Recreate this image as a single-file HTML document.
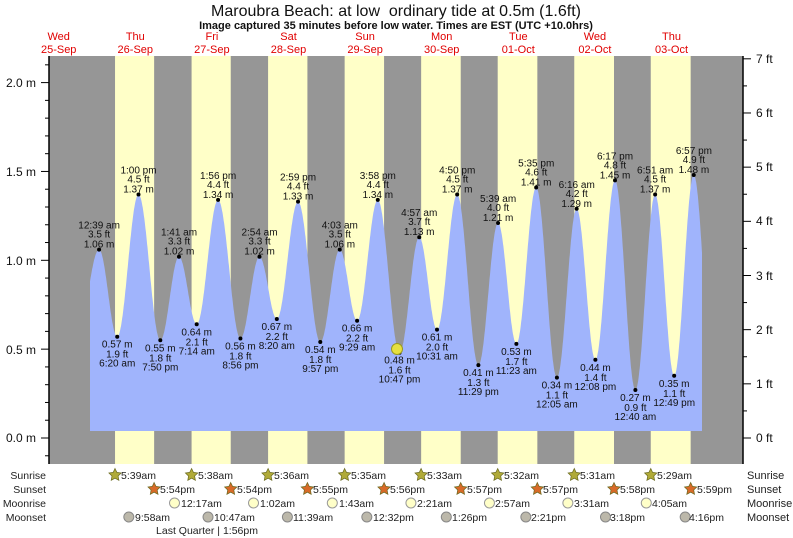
<!DOCTYPE html>
<html><head><meta charset="utf-8"><style>
html,body{margin:0;padding:0;background:#fff;}
svg{display:block;font-family:"Liberation Sans",sans-serif;}
.l text{font-size:10px;text-anchor:middle;fill:#111;}
.r{font-size:10.5px;fill:#222;}
</style></head><body>
<svg id="s" width="793" height="538" viewBox="0 0 793 538">
<rect x="49" y="56" width="694" height="408" fill="#969696"/>
<g id="bands"></g>
<path id="tide" fill="#a0b4fc"/>
<g id="ticks" stroke="#000" stroke-width="1"></g>
<line x1="49" y1="56" x2="49" y2="464" stroke="#000" stroke-width="1.5"/>
<line x1="743" y1="56" x2="743" y2="464" stroke="#000" stroke-width="1.5"/>
<g id="dots"></g>
<circle cx="397" cy="349" r="5.5" fill="#e6e040" stroke="#9a9a20" stroke-width="1"/>
<text x="396" y="16" font-size="16" text-anchor="middle" fill="#111">Maroubra Beach: at low&#160; ordinary tide at 0.5m (1.6ft)</text>
<text x="396" y="29" font-size="11" font-weight="bold" text-anchor="middle" fill="#111">Image captured 35 minutes before low water. Times are EST (UTC +10.0hrs)</text>
<g font-size="11" fill="#e00000" text-anchor="middle">
<text x="58.7" y="40">Wed</text><text x="58.7" y="53">25-Sep</text>
<text x="135.3" y="40">Thu</text><text x="135.3" y="53">26-Sep</text>
<text x="211.9" y="40">Fri</text><text x="211.9" y="53">27-Sep</text>
<text x="288.5" y="40">Sat</text><text x="288.5" y="53">28-Sep</text>
<text x="365.1" y="40">Sun</text><text x="365.1" y="53">29-Sep</text>
<text x="441.7" y="40">Mon</text><text x="441.7" y="53">30-Sep</text>
<text x="518.3" y="40">Tue</text><text x="518.3" y="53">01-Oct</text>
<text x="594.9" y="40">Wed</text><text x="594.9" y="53">02-Oct</text>
<text x="671.5" y="40">Thu</text><text x="671.5" y="53">03-Oct</text>
</g>
<g font-size="12" fill="#111" text-anchor="end">
<text x="36" y="87">2.0 m</text><text x="36" y="176">1.5 m</text><text x="36" y="265">1.0 m</text><text x="36" y="354">0.5 m</text><text x="36" y="442">0.0 m</text>
</g>
<g font-size="12" fill="#111">
<text x="756" y="442">0 ft</text><text x="756" y="388">1 ft</text><text x="756" y="334">2 ft</text><text x="756" y="280">3 ft</text><text x="756" y="225">4 ft</text><text x="756" y="171">5 ft</text><text x="756" y="117">6 ft</text><text x="756" y="63">7 ft</text>
</g>
<g class="l">
<g transform="translate(99.1,249.6)"><text y="-21">12:39 am</text><text y="-12">3.5 ft</text><text y="-2">1.06 m</text></g>
<g transform="translate(117.2,336.7)"><text y="11">0.57 m</text><text y="21">1.9 ft</text><text y="30">6:20 am</text></g>
<g transform="translate(138.5,194.5)"><text y="-21">1:00 pm</text><text y="-12">4.5 ft</text><text y="-2">1.37 m</text></g>
<g transform="translate(160.3,340.3)"><text y="11">0.55 m</text><text y="21">1.8 ft</text><text y="30">7:50 pm</text></g>
<g transform="translate(179,256.7)"><text y="-21">1:41 am</text><text y="-12">3.3 ft</text><text y="-2">1.02 m</text></g>
<g transform="translate(196.7,324.3)"><text y="11">0.64 m</text><text y="21">2.1 ft</text><text y="30">7:14 am</text></g>
<g transform="translate(218.1,199.9)"><text y="-21">1:56 pm</text><text y="-12">4.4 ft</text><text y="-2">1.34 m</text></g>
<g transform="translate(240.4,338.5)"><text y="11">0.56 m</text><text y="21">1.8 ft</text><text y="30">8:56 pm</text></g>
<g transform="translate(259.5,256.7)"><text y="-21">2:54 am</text><text y="-12">3.3 ft</text><text y="-2">1.02 m</text></g>
<g transform="translate(276.8,318.9)"><text y="11">0.67 m</text><text y="21">2.2 ft</text><text y="30">8:20 am</text></g>
<g transform="translate(298,201.7)"><text y="-21">2:59 pm</text><text y="-12">4.4 ft</text><text y="-2">1.33 m</text></g>
<g transform="translate(320.3,342)"><text y="11">0.54 m</text><text y="21">1.8 ft</text><text y="30">9:57 pm</text></g>
<g transform="translate(339.8,249.6)"><text y="-21">4:03 am</text><text y="-12">3.5 ft</text><text y="-2">1.06 m</text></g>
<g transform="translate(357.1,320.7)"><text y="11">0.66 m</text><text y="21">2.2 ft</text><text y="30">9:29 am</text></g>
<g transform="translate(377.8,199.9)"><text y="-21">3:58 pm</text><text y="-12">4.4 ft</text><text y="-2">1.34 m</text></g>
<g transform="translate(399.5,352.7)"><text y="11">0.48 m</text><text y="21">1.6 ft</text><text y="30">10:47 pm</text></g>
<g transform="translate(419.2,237.2)"><text y="-21">4:57 am</text><text y="-12">3.7 ft</text><text y="-2">1.13 m</text></g>
<g transform="translate(437,329.6)"><text y="11">0.61 m</text><text y="21">2.0 ft</text><text y="30">10:31 am</text></g>
<g transform="translate(457.2,194.5)"><text y="-21">4:50 pm</text><text y="-12">4.5 ft</text><text y="-2">1.37 m</text></g>
<g transform="translate(478.4,365.1)"><text y="11">0.41 m</text><text y="21">1.3 ft</text><text y="30">11:29 pm</text></g>
<g transform="translate(498.1,223)"><text y="-21">5:39 am</text><text y="-12">4.0 ft</text><text y="-2">1.21 m</text></g>
<g transform="translate(516.4,343.8)"><text y="11">0.53 m</text><text y="21">1.7 ft</text><text y="30">11:23 am</text></g>
<g transform="translate(536.2,187.4)"><text y="-21">5:35 pm</text><text y="-12">4.6 ft</text><text y="-2">1.41 m</text></g>
<g transform="translate(556.9,377.6)"><text y="11">0.34 m</text><text y="21">1.1 ft</text><text y="30">12:05 am</text></g>
<g transform="translate(576.7,208.8)"><text y="-21">6:16 am</text><text y="-12">4.2 ft</text><text y="-2">1.29 m</text></g>
<g transform="translate(595.4,359.8)"><text y="11">0.44 m</text><text y="21">1.4 ft</text><text y="30">12:08 pm</text></g>
<g transform="translate(615,180.3)"><text y="-21">6:17 pm</text><text y="-12">4.8 ft</text><text y="-2">1.45 m</text></g>
<g transform="translate(635.4,390)"><text y="11">0.27 m</text><text y="21">0.9 ft</text><text y="30">12:40 am</text></g>
<g transform="translate(655.1,194.5)"><text y="-21">6:51 am</text><text y="-12">4.5 ft</text><text y="-2">1.37 m</text></g>
<g transform="translate(674.2,375.8)"><text y="11">0.35 m</text><text y="21">1.1 ft</text><text y="30">12:49 pm</text></g>
<g transform="translate(693.9,175)"><text y="-21">6:57 pm</text><text y="-12">4.9 ft</text><text y="-2">1.48 m</text></g>
</g>
<g font-size="10.5" fill="#222" text-anchor="end">
<text x="46" y="479">Sunrise</text><text x="46" y="493">Sunset</text><text x="46" y="507">Moonrise</text><text x="46" y="521">Moonset</text>
</g>
<g font-size="11" fill="#222">
<text x="747" y="479">Sunrise</text><text x="747" y="493">Sunset</text><text x="747" y="507">Moonrise</text><text x="747" y="521">Moonset</text>
</g>
<g id="icons"></g>
<g class="r">
<text x="121" y="479">5:39am</text><text x="198" y="479">5:38am</text><text x="274" y="479">5:36am</text><text x="351" y="479">5:35am</text><text x="427" y="479">5:33am</text><text x="504" y="479">5:32am</text><text x="580" y="479">5:31am</text><text x="657" y="479">5:29am</text>
<text x="160" y="493">5:54pm</text><text x="237" y="493">5:54pm</text><text x="313" y="493">5:55pm</text><text x="390" y="493">5:56pm</text><text x="467" y="493">5:57pm</text><text x="543" y="493">5:57pm</text><text x="620" y="493">5:58pm</text><text x="697" y="493">5:59pm</text>
<text x="181" y="507">12:17am</text><text x="260" y="507">1:02am</text><text x="339" y="507">1:43am</text><text x="417" y="507">2:21am</text><text x="495" y="507">2:57am</text><text x="574" y="507">3:31am</text><text x="652" y="507">4:05am</text>
<text x="135" y="521">9:58am</text><text x="214" y="521">10:47am</text><text x="293" y="521">11:39am</text><text x="373" y="521">12:32pm</text><text x="452" y="521">1:26pm</text><text x="531" y="521">2:21pm</text><text x="610" y="521">3:18pm</text><text x="689" y="521">4:16pm</text>
<text x="207" y="534" text-anchor="middle">Last Quarter | 1:56pm</text>
</g>
</svg>
<script>
var NS="http://www.w3.org/2000/svg";
function el(t,a,p){var e=document.createElementNS(NS,t);for(var k in a)e.setAttribute(k,a[k]);document.getElementById(p).appendChild(e);return e;}
var X=function(t){return 97+t*3.192;}, Y=function(h){return 438-177.7*h;};
var sr=[5.65,5.633,5.6,5.583,5.55,5.533,5.517,5.483], ss=[17.9,17.9,17.917,17.933,17.95,17.95,17.967,17.983];
for(var d=0;d<8;d++){el("rect",{x:X(d*24+sr[d]),y:56,width:X(d*24+ss[d])-X(d*24+sr[d]),height:408,fill:"#ffffc8"},"bands");}
var ex=[[-6.4,0.55],[0.65,1.06],[6.333,.57],[13,1.37],[19.833,.55],[25.683,1.02],[31.233,.64],[37.933,1.34],[44.933,.56],[50.9,1.02],[56.333,.67],[62.983,1.33],[69.95,.54],[76.05,1.06],[81.483,.66],[87.967,1.34],[94.783,.48],[100.95,1.13],[106.517,.61],[112.833,1.37],[119.483,.41],[125.65,1.21],[131.383,.53],[137.583,1.41],[144.083,.34],[150.267,1.29],[156.133,.44],[162.283,1.45],[168.667,.27],[174.85,1.37],[180.817,.35],[186.95,1.48],[193.3,0.25]];
function h(t){for(var i=0;i<ex.length-1;i++){var a=ex[i],b=ex[i+1];if(t>=a[0]&&t<=b[0]){var f=(t-a[0])/(b[0]-a[0]);return a[1]+(b[1]-a[1])*(1-Math.cos(Math.PI*f))/2;}}return 0.5;}
var t0=(90-97)/3.192,t1=(702-97)/3.192,p="M90,431";
for(var t=t0;t<=t1;t+=0.1){p+="L"+X(t).toFixed(1)+","+Y(h(t)).toFixed(1);}
p+="L702,"+Y(h(t1)).toFixed(1)+"L702,431Z";
document.getElementById("tide").setAttribute("d",p);
for(var i=1;i<ex.length-1;i++)el("circle",{cx:X(ex[i][0]),cy:Y(ex[i][1]),r:2,fill:"#000"},"dots");
for(var m=-0.1;m<=2.15;m+=0.1){var y=Y(m),maj=Math.abs(m*2-Math.round(m*2))<0.01;el("line",{x1:maj?41:45,x2:49,y1:y,y2:y},"ticks");}
for(var f=-1;f<=7.2;f+=0.5){var y=438-f*54.17;if(y<56||y>464)continue;var maj=Math.abs(f-Math.round(f))<0.01;el("line",{x1:743,x2:maj?751:747,y1:y,y2:y},"ticks");}
function star(cx,cy,fill){var s="";for(var k=0;k<10;k++){var r=k%2?3.2:6.5,a=-Math.PI/2+k*Math.PI/5;s+=(cx+r*Math.cos(a)).toFixed(1)+","+(cy+r*Math.sin(a)).toFixed(1)+" ";}el("polygon",{points:s,fill:fill,stroke:"#6a6a20","stroke-width":0.7},"icons");}
for(var d=0;d<8;d++){star(X(d*24+sr[d]),475,"#b0aa38");star(X(d*24+ss[d]),489,"#d86a28");}
var mr=[24.283,49.033,73.717,98.35,122.95,147.517,172.083];mr.forEach(function(t){el("circle",{cx:X(t),cy:503,r:5,fill:"#ffffc8",stroke:"#999"},"icons");});
var ms=[9.967,34.783,59.65,84.533,109.433,134.35,159.3,184.267];ms.forEach(function(t){el("circle",{cx:X(t),cy:517,r:5,fill:"#bcb8aa",stroke:"#888"},"icons");});
</script>
</body></html>
